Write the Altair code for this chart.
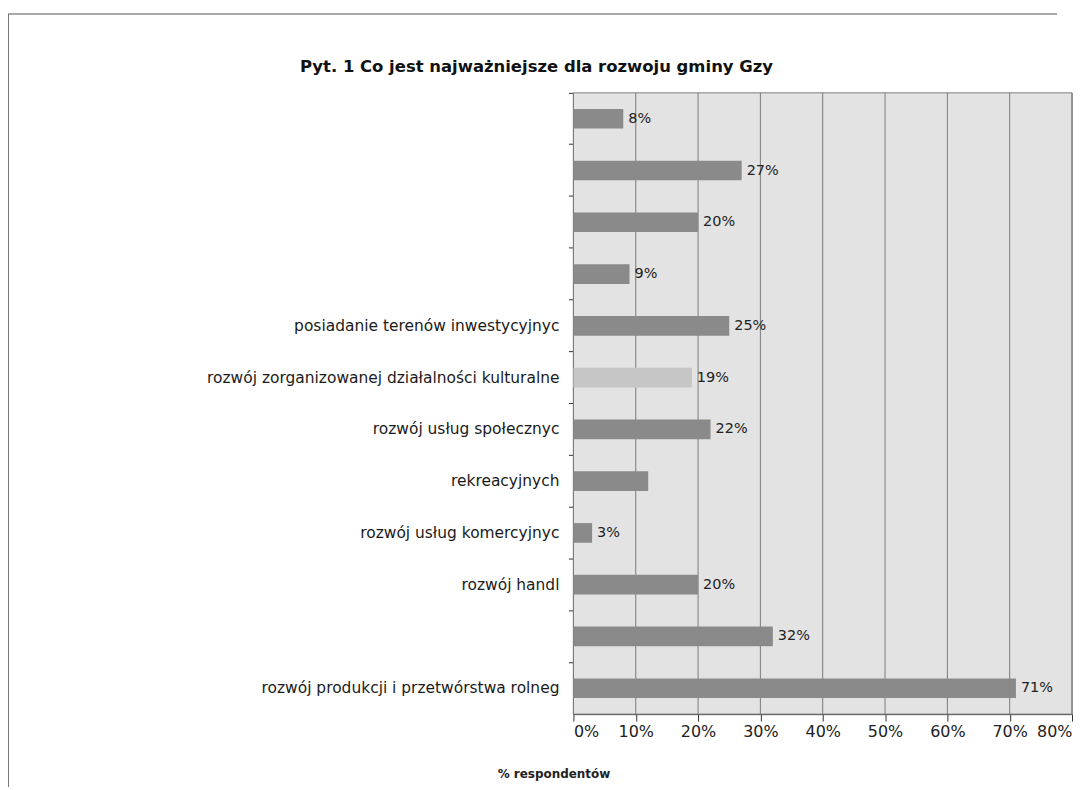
import altair as alt
import pandas as pd

# ---- data ----
labels = [
    "", "", "", "",
    "posiadanie terenów inwestycyjnyc",
    "rozwój zorganizowanej działalności kulturalne",
    "rozwój usług społecznyc",
    "rekreacyjnych",
    "rozwój usług komercyjnyc",
    "rozwój handl",
    "",
    "rozwój produkcji i przetwórstwa rolneg",
]
values = [8, 27, 20, 9, 25, 19, 22, 12, 3, 20, 32, 71]
value_text = ["8%", "27%", "20%", "9%", "25%", "19%", "22%", "", "3%", "20%", "32%", "71%"]
order = list(range(len(labels)))
x_ticks = [0, 10, 20, 30, 40, 50, 60, 70, 80]
x_min, x_max = 0, 80

title_text = "Pyt. 1 Co jest najważniejsze dla rozwoju gminy Gzy"
x_title = "% respondentów"
highlight = "rozwój zorganizowanej działalności kulturalne"

df = pd.DataFrame({"idx": order, "label": labels, "value": values, "vtext": value_text})
grid_df = pd.DataFrame({"tick": x_ticks})

FONT = "DejaVu Sans"
PLOT_W, PLOT_H = 500, 623
yscale = alt.Scale(paddingInner=0, paddingOuter=0)
xscale = alt.Scale(domain=[x_min, x_max], nice=False)

base = alt.Chart(df)
single = alt.Data(values=[{"a": 1}])

plot_bg = alt.Chart(single).mark_rect(
    fill="#e3e3e3", stroke="#808080", strokeWidth=1
).encode(x=alt.value(0), x2=alt.value(PLOT_W), y=alt.value(0), y2=alt.value(PLOT_H))

grid_rules = alt.Chart(grid_df).mark_rule(color="#7a7a7a", strokeWidth=1).encode(
    x=alt.X("tick:Q", scale=xscale)
)

bars = base.mark_bar(height={"band": 0.38}).encode(
    x=alt.X(
        "value:Q",
        scale=xscale,
        axis=alt.Axis(
            values=x_ticks,
            labelExpr="datum.value + '%'",
            title=x_title,
            grid=False,
            domainColor="#333333",
            tickColor="#333333",
            tickSize=7,
            labelFont=FONT,
            labelFontSize=16,
            labelColor="#222222",
            labelPadding=2,
            titleFont=FONT,
            titleFontSize=12,
            titleFontWeight="bold",
            titleX=-20,
            titleY=60,
            titleAlign="center",
            titleBaseline="middle",
            titleColor="#222222",
        ),
    ),
    y=alt.Y(
        "idx:O",
        scale=yscale,
        axis=alt.Axis(
            labels=False,
            title=None,
            bandPosition=0,
            ticks=True,
            tickSize=5,
            tickColor="#333333",
            domainColor="#333333",
            grid=False,
        ),
    ),
    color=alt.condition(
        alt.datum.label == highlight, alt.value("#c6c6c6"), alt.value("#8a8a8a")
    ),
)

cat_text = base.mark_text(
    align="right", baseline="middle", dx=-14, font=FONT, fontSize=15.5, color="#1a1a1a"
).encode(x=alt.value(0), y=alt.Y("idx:O", scale=yscale), text="label:N")

val_text = base.mark_text(
    align="left", baseline="middle", dx=5, font=FONT, fontSize=14.5, color="#222222"
).encode(x=alt.X("value:Q", scale=xscale), y=alt.Y("idx:O", scale=yscale), text="vtext:N")

title_mark = alt.Chart(alt.Data(values=[{"t": title_text}])).mark_text(
    align="center", baseline="alphabetic", font=FONT, fontSize=16.5, fontWeight="bold", color="#111111"
).encode(x=alt.value(-37), y=alt.value(-21), text="t:N")

frame_top = alt.Chart(single).mark_rule(color="#8c8c8c", strokeWidth=1.5).encode(
    x=alt.value(-567), x2=alt.value(485), y=alt.value(-79)
)
frame_left = alt.Chart(single).mark_rule(color="#777777", strokeWidth=2).encode(
    x=alt.value(-567), y=alt.value(-79), y2=alt.value(700)
)

chart = (
    alt.layer(plot_bg, grid_rules, frame_top, frame_left, bars, cat_text, val_text, title_mark)
    .properties(
        width=PLOT_W,
        height=PLOT_H,
        padding={"left": 567, "top": 84, "right": 6, "bottom": 72},
        autosize=alt.AutoSizeParams(type="none"),
    )
    .configure_view(fill="#e3e3e3", stroke="#808080")
    .configure(background="white")
)

chart.save("out.html", embed_options={"renderer": "svg", "actions": False})
